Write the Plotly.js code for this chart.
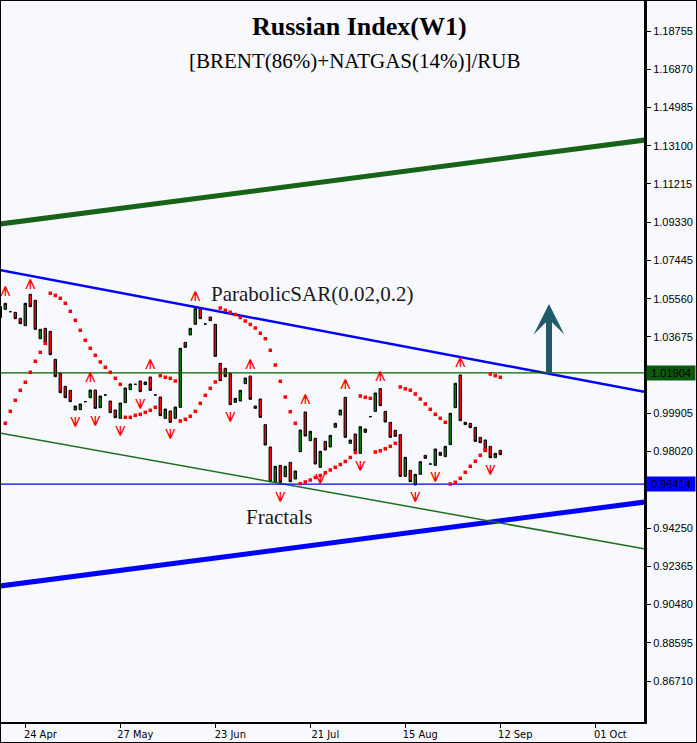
<!DOCTYPE html>
<html>
<head>
<meta charset="utf-8">
<script src="https://cdn.plot.ly/plotly-3.0.1.min.js"></script>
<style>
  html, body { margin: 0; padding: 0; background: #f8f8ff; }
  #wrap { position: absolute; left: 0; top: 0; width: 695px; height: 741px; border: 1px solid #000; background: #f8f8ff; }
  #chart { width: 695px; height: 741px; }
</style>
</head>
<body>
<div id="wrap"><div id="chart"></div></div>
<script>
// ---- weekly bars (bar index from -1), bodies only ----
const opens = [
  1.05166, 1.05035, 1.04920, 1.04887, 1.04591, 1.04229, 1.05774, 1.05478, 1.03589, 1.04098,
  1.03950, 1.02570, 1.01880, 1.01239, 1.01042, 1.00072, 1.00089, 1.00483, 1.00680, 1.01058,
  1.00187, 1.00812, 1.00516, 1.00072, 0.99661, 1.00434, 1.01074, 1.01337, 1.01502, 1.01321,
  1.01699, 1.00812, 1.00713, 0.99661, 1.00023, 0.99661, 1.00204, 1.03408, 1.03769, 1.04295,
  1.05067, 1.04312, 1.04657, 1.04295, 1.02373, 1.02126, 1.01880, 1.00450, 1.00516, 1.01370,
  1.01748, 1.00269, 1.00614, 0.99349, 0.98248, 0.96506, 0.97344, 0.96786, 0.97492, 0.96671,
  0.98018, 0.99973, 0.98560, 0.98675, 0.97246, 0.98527, 0.98248, 0.99218, 0.99826, 1.00697,
  0.98429, 0.98889, 0.97936, 0.98971, 0.99743, 1.00006, 1.01124, 1.00006, 0.99464, 0.99070,
  0.98856, 0.96802, 0.97098, 0.96375, 0.96901, 0.97837, 0.97410, 0.97344, 0.97985, 0.97772,
  0.98363, 1.00187, 1.01797, 0.99464, 0.99415, 0.99218, 0.98725, 0.98593, 0.98281, 0.97722,
  0.98084
];
const closes = [
  1.04624, 1.05330, 1.04920, 1.04574, 1.04328, 1.05330, 1.05166, 1.04049, 1.04049, 1.03391,
  1.02800, 1.01715, 1.00927, 1.00680, 1.00483, 1.00269, 1.00368, 1.00483, 1.01058, 1.00154,
  1.00762, 1.00812, 0.99941, 0.99694, 1.00417, 1.01157, 1.01354, 1.01337, 1.00976, 1.01452,
  1.01042, 1.00812, 0.99793, 1.00121, 0.99464, 1.00220, 1.03112, 1.03161, 1.04098, 1.05067,
  1.04574, 1.04312, 1.04476, 1.02718, 1.01518, 1.01715, 1.00335, 1.00647, 1.01042, 1.01650,
  1.00598, 1.00154, 0.99711, 0.98347, 0.96539, 0.97295, 0.96506, 0.97295, 0.96539, 0.97065,
  0.99086, 0.98790, 0.99020, 0.97410, 0.98035, 0.98100, 0.98823, 0.99415, 1.00072, 0.98725,
  0.98593, 0.98067, 0.99250, 0.99135, 0.99743, 1.00910, 1.00286, 0.99481, 0.98725, 0.98774,
  0.96802, 0.97739, 0.96539, 0.96901, 0.97525, 0.97689, 0.97410, 0.98150, 0.97837, 0.98281,
  0.99908, 1.01387, 0.99546, 0.99349, 0.99201, 0.98527, 0.98462, 0.98018, 0.97722, 0.97936,
  0.97870
];
// ---- Parabolic SAR (0.02, 0.2), one dot per bar ----
const sar = [
  null,
  0.99416, 1.00008, 1.00550, 1.01043, 1.01438, 1.01931, 1.02473, 1.02916, 1.03360, 1.05825,
  1.05726, 1.05578, 1.05332, 1.04937, 1.04494, 1.04001, 1.03508, 1.03114, 1.02769, 1.02440,
  1.02177, 1.01931, 1.01635, 1.01339, 0.99712, 0.99712, 0.99811, 0.99860, 0.99959, 1.00057,
  1.00205, 1.01763, 1.01684, 1.01635, 1.01502, 0.99530, 0.99614, 0.99762, 1.00008, 1.00402,
  1.00797, 1.01142, 1.01452, 1.05100, 1.04987, 1.04888, 1.04780, 1.04632, 1.04459, 1.04287,
  1.04114, 1.03853, 1.03587, 1.03015, 1.02290, 1.01487, 1.00713, 0.99988, 0.99416, 0.96439,
  0.96523, 0.96621, 0.96745, 0.96843, 0.96981, 0.97114, 0.97247, 0.97386, 0.97533, 0.97731,
  0.97977, 1.00762, 1.00698, 1.00649, 0.98002, 0.98061, 0.98159, 0.98283, 0.98431, 1.01206,
  1.01117, 1.01048, 1.00861, 1.00614, 1.00368, 1.00107, 0.99860, 0.99663, 0.99466, 0.96424,
  0.96508, 0.96705, 0.97001, 0.97297, 0.97543, 0.97839, 0.98100, 1.01847, 1.01763, 1.01684
];
// ---- Fractals (glyph centres) ----
const fractalUpBars = [0, 5, 17, 29, 38, 49, 60, 68, 75, 91];
const fractalUpVals = [1.05948, 1.06273, 1.01674, 1.02329, 1.05667, 1.02329, 1.00604, 1.01344, 1.01758, 1.02413];
const fractalDnBars = [14, 18, 23, 27, 33, 45, 55, 63, 71, 82, 86, 97];
const fractalDnVals = [0.99491, 0.99540, 0.99047, 1.00358, 0.98879, 0.99737, 0.95759, 0.96661, 0.97322, 0.95759, 0.96745, 0.97105];
// ---- trend lines (bar index ends, price values) ----
const lineBars = [-1.06, 127.94];
const upperGreenChannel = [1.09241, 1.13382];
const blueResistance = [1.06973, 1.00959];
const greenSupport = [0.98938, 0.93220];
const lowerBlueChannel = [0.91396, 0.95537];
const levelGreen = 1.01904;
const levelBlue = 0.96414;
const arrowBar = 108.74;
const arrowFrom = 1.01797;
const arrowTo = 1.05297;
// ---- axis ticks ----
const dateTickBars = [4, 23, 42, 61, 80, 99, 118];
const dateTickText = ['24 Apr', '27 May', '23 Jun', '21 Jul', '15 Aug', '12 Sep', '01 Oct'];
const priceTicks = [1.18755, 1.16870, 1.14985, 1.13100, 1.11215, 1.09330, 1.07445, 1.05560, 1.03675,
  1.01790, 0.99905, 0.98020, 0.96135, 0.94250, 0.92365, 0.90480, 0.88595, 0.86710];
const hiddenPriceTicks = [1.01790, 0.96135];

const bars = opens.map((_, k) => k - 1);
const highs = opens.map((o, k) => Math.max(o, closes[k]));
const lows = opens.map((o, k) => Math.min(o, closes[k]));
const sarBars = sar.map((_, k) => k - 1);

const lineTrace = (y, color, width) => ({
  type: 'scatter', mode: 'lines', x: lineBars, y: y,
  line: { color: color, width: width }, hoverinfo: 'skip', showlegend: false
});
const hLine = (v, color, width) => ({
  type: 'scatter', mode: 'lines', x: lineBars, y: [v, v],
  line: { color: color, width: width }, hoverinfo: 'skip', showlegend: false
});

const traces = [
  lineTrace(upperGreenChannel, '#176317', 5),
  lineTrace(lowerBlueChannel, '#0000ff', 5),
  lineTrace(greenSupport, '#1f6e1f', 1.5),
  lineTrace(blueResistance, '#0000ff', 2.5),
  hLine(levelGreen, '#006400', 1.2),
  hLine(levelBlue, '#0000ff', 1.2),
  {
    type: 'candlestick', x: bars, open: opens, high: highs, low: lows, close: closes,
    increasing: { line: { color: '#000000', width: 1 }, fillcolor: '#008000' },
    decreasing: { line: { color: '#000000', width: 1 }, fillcolor: '#ff0000' },
    whiskerwidth: 0, hoverinfo: 'skip', showlegend: false
  },
  {
    type: 'scatter', mode: 'markers', x: sarBars, y: sar,
    marker: { symbol: 'square', size: 3.5, color: '#ff0000' },
    hoverinfo: 'skip', showlegend: false
  },
  {
    type: 'scatter', mode: 'text', x: fractalUpBars, y: fractalUpVals,
    text: fractalUpBars.map(() => '\u2A5A'), textposition: 'middle center',
    textfont: { family: 'DejaVu Sans, sans-serif', size: 19, color: '#ff0000' },
    hoverinfo: 'skip', showlegend: false
  },
  {
    type: 'scatter', mode: 'text', x: fractalDnBars, y: fractalDnVals,
    text: fractalDnBars.map(() => '\u2A5B'), textposition: 'middle center',
    textfont: { family: 'DejaVu Sans, sans-serif', size: 19, color: '#ff0000' },
    hoverinfo: 'skip', showlegend: false
  }
];

const serif = 'Liberation Serif, Times New Roman, serif';
const labelFont = { family: 'Liberation Sans, Arial, sans-serif', size: 11, color: '#000' };
const layout = {
  width: 695, height: 741,
  margin: { l: 0, r: 52, t: 0, b: 20, pad: 0 },
  paper_bgcolor: '#f8f8ff', plot_bgcolor: '#f8f8ff',
  showlegend: false,
  xaxis: {
    range: [-0.86, 127.74], tickvals: dateTickBars, ticktext: dateTickText,
    ticks: 'outside', ticklen: 4, tickcolor: '#000', tickwidth: 1,
    showline: true, linecolor: '#000', linewidth: 1.5,
    showgrid: false, zeroline: false, fixedrange: true,
    rangeslider: { visible: false },
    ticklabelshift: 15, ticklabelstandoff: -3,
    tickfont: { family: 'Liberation Sans Narrow, DejaVu Sans Condensed, Arial Narrow, sans-serif', size: 11, color: '#000' }
  },
  yaxis: {
    side: 'right', range: [0.84692, 1.20234],
    tickvals: priceTicks,
    ticktext: priceTicks.map(v => hiddenPriceTicks.includes(v) ? '' : v.toFixed(5)),
    ticks: 'outside', ticklen: 4, tickcolor: '#000', tickwidth: 1,
    showline: true, linecolor: '#000', linewidth: 3,
    showgrid: false, zeroline: false, fixedrange: true,
    tickfont: labelFont
  },
  annotations: [
    { xref: 'paper', yref: 'paper', x: 0.557, y: 0.964, xanchor: 'center', yanchor: 'middle',
      text: '<b>Russian Index(W1)</b>', showarrow: false, font: { family: serif, size: 26, color: '#000' } },
    { xref: 'paper', yref: 'paper', x: 0.5505, y: 0.9168, xanchor: 'center', yanchor: 'middle',
      text: '[BRENT(86%)+NATGAS(14%)]/RUB', showarrow: false, font: { family: serif, size: 21, color: '#000' } },
    { xref: 'paper', yref: 'paper', x: 0.4837, y: 0.5936, xanchor: 'center', yanchor: 'middle',
      text: 'ParabolicSAR(0.02,0.2)', showarrow: false, font: { family: serif, size: 21, color: '#1a1a1a' } },
    { xref: 'paper', yref: 'paper', x: 0.4331, y: 0.2840, xanchor: 'center', yanchor: 'middle',
      text: 'Fractals', showarrow: false, font: { family: serif, size: 21, color: '#1a1a1a' } },
    { xref: 'paper', yref: 'y', x: 1.003, y: levelGreen, xanchor: 'left', yanchor: 'middle',
      text: levelGreen.toFixed(5), showarrow: false, bgcolor: '#0b5a0b', borderpad: 1, width: 46,
      font: labelFont },
    { xref: 'paper', yref: 'y', x: 1.003, y: levelBlue, xanchor: 'left', yanchor: 'middle',
      text: levelBlue.toFixed(5), showarrow: false, bgcolor: '#0000ff', borderpad: 1, width: 46,
      font: labelFont },
    { xref: 'x', yref: 'y', x: arrowBar, y: arrowTo, axref: 'x', ayref: 'y', ax: arrowBar, ay: arrowFrom,
      text: '', showarrow: true, arrowhead: 3, arrowsize: 0.85, arrowwidth: 6, arrowcolor: '#215a6a' }
  ]
};

Plotly.newPlot('chart', traces, layout, { displayModeBar: false, staticPlot: true });
</script>
</body>
</html>
